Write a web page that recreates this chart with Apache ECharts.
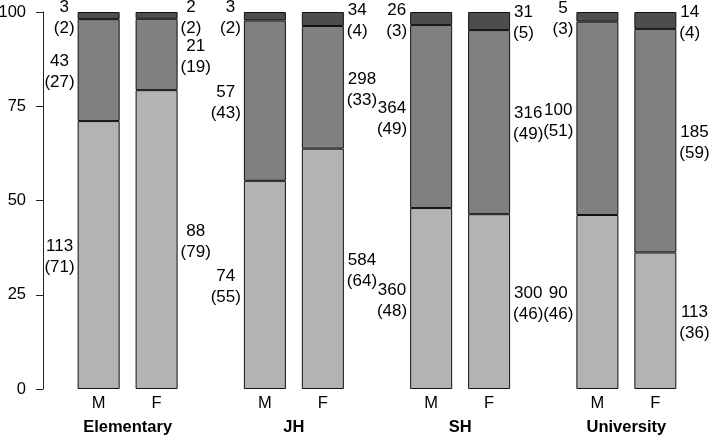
<!DOCTYPE html>
<html>
<head>
<meta charset="utf-8">
<script src="https://cdn.jsdelivr.net/npm/echarts@6/dist/echarts.min.js"></script>
<style>
html,body{margin:0;padding:0;background:#fff;}
#c{width:711px;height:436px;}
</style>
</head>
<body>
<div id="c"></div>
<script>
// Data
var groups = ['Elementary', 'JH', 'SH', 'University'];
var sexes = ['M', 'F'];
// counts per level (bottom, middle, top) for M and F in each group
var mLow  = [113, 74, 360, 90];
var mMid  = [43, 57, 364, 100];
var mHigh = [3, 3, 26, 5];
var fLow  = [88, 584, 300, 113];
var fMid  = [21, 298, 316, 185];
var fHigh = [2, 34, 31, 14];
var yTicks = [0, 25, 50, 75, 100];

function pct(arrs, k) {
  return arrs[k].map(function (v, i) {
    var tot = arrs[0][i] + arrs[1][i] + arrs[2][i];
    return v / tot * 100;
  });
}
var mArr = [mLow, mMid, mHigh];
var fArr = [fLow, fMid, fHigh];
var colors = ['#b3b3b3', '#808080', '#4d4d4d'];
var FONT = '"Liberation Sans", Arial, Helvetica, sans-serif';
var FS = 17;

function makeSeries(arrs, stack, side) {
  return arrs.map(function (counts, k) {
    var p = pct(arrs, k);
    return {
      type: 'bar',
      stack: stack,
      barWidth: 42,
      barGap: '38%',
      data: p,
      itemStyle: { color: colors[k], borderColor: '#111', borderWidth: 1 },
      label: {
        show: true,
        position: side,
        distance: 3,
        offset: [0, 2],
        color: '#000',
        fontFamily: FONT,
        fontSize: FS,
        lineHeight: 21,
        formatter: function (prm) {
          var i = prm.dataIndex;
          return '{a|' + counts[i] + '}\n{a|(' + Math.round(p[i]) + ')}';
        },
        rich: { a: { align: 'center', fontSize: FS, lineHeight: 21, color: '#000', fontFamily: FONT } }
      },
      emphasis: { disabled: true },
      animation: false
    };
  });
}

var series = makeSeries(mArr, 'M', 'left').concat(makeSeries(fArr, 'F', 'right'));

var chart = echarts.init(document.getElementById('c'));
chart.setOption({
  animation: false,
  grid: { left: 44.5, right: 1.5, top: 12, bottom: 47, containLabel: false, outerBoundsMode: 'none' },
  xAxis: {
    type: 'category',
    data: groups,
    axisLine: { show: false },
    axisTick: { show: false },
    axisLabel: {
      margin: 2,
      interval: 0,
      formatter: function (name) {
        return '{mf|' + sexes[0] + '}{mf|' + sexes[1] + '}\n{g|' + name + '}';
      },
      rich: {
        mf: { width: 58, align: 'center', fontSize: 16.5, lineHeight: 24, color: '#000', fontFamily: FONT },
        g: { fontSize: 16.5, fontWeight: 'bold', lineHeight: 24, color: '#000', fontFamily: FONT }
      }
    }
  },
  yAxis: {
    type: 'value',
    min: yTicks[0],
    max: yTicks[yTicks.length - 1],
    interval: 25,
    offset: 1.5,
    splitLine: { show: false },
    axisLine: { show: true, lineStyle: { color: '#222', width: 1 } },
    axisTick: { show: true, length: 7, lineStyle: { color: '#222', width: 1 } },
    axisLabel: { margin: 17, fontSize: 16.5, color: '#000', fontFamily: FONT }
  },
  series: series
});
</script>
</body>
</html>
